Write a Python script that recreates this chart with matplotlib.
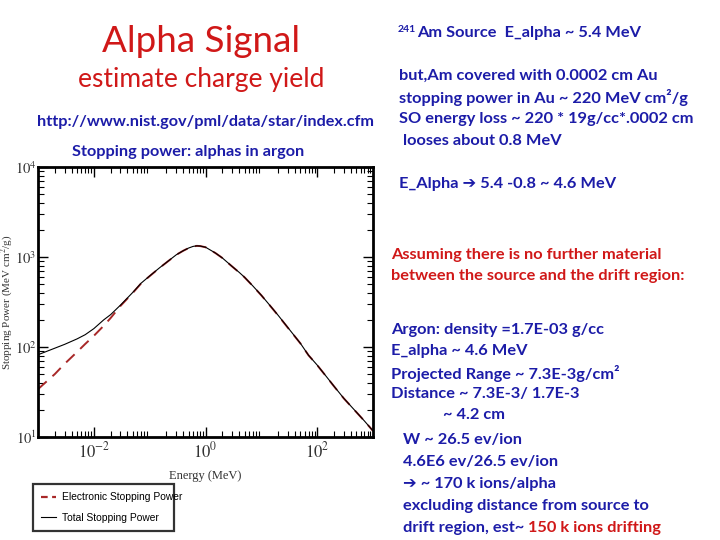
import matplotlib
matplotlib.use("Agg")
import matplotlib.pyplot as plt
from matplotlib.lines import Line2D

# ---------------- data ----------------
energy_mev = [1e-3, 2e-3, 3e-3, 5e-3, 7e-3, 1e-2, 1.5e-2, 2e-2, 3e-2, 5e-2, 7e-2,
              0.1, 0.15, 0.2, 0.3, 0.4, 0.5, 0.6, 0.7, 0.8, 1.0, 1.5, 2, 3, 4, 5,
              7, 10, 15, 20, 30, 50, 70, 100, 150, 200, 300, 500, 700, 1000]
total_sp = [82, 97, 107, 123, 137, 160, 200, 229, 292, 405, 511,
            616, 758, 871, 1059, 1175, 1259, 1312, 1330, 1324, 1285, 1109, 977, 785, 676, 596,
            479, 376, 279, 225, 164, 110, 81, 63, 46, 36.7, 26.9, 19, 15.1, 11.7]
electronic_sp = [34, 50, 65, 88, 108, 133, 172, 210, 286, 400, 507,
                 613, 756, 869, 1058, 1174, 1258, 1311, 1329, 1323, 1284, 1108, 976, 784, 675, 595,
                 478, 375, 278, 224, 163, 109.8, 80.9, 62.9, 45.9, 36.6, 26.85, 18.98, 15.09, 11.69]
legend_labels = ["Electronic Stopping Power", "Total Stopping Power"]
xtick_values = [1e-2, 1, 1e2]
xtick_labels = [r"$10^{-2}$", r"$10^{0}$", r"$10^{2}$"]
ytick_values = [1e1, 1e2, 1e3, 1e4]
ytick_labels = [r"$10^{1}$", r"$10^{2}$", r"$10^{3}$", r"$10^{4}$"]

RED = "#d01818"
BLUE = "#1c1ca8"
DARKRED = "#a82828"

plt.rcParams["mathtext.fontset"] = "stix"
fig = plt.figure(figsize=(7.2, 5.4), dpi=100)
fig.patch.set_facecolor("white")

# ---------------- chart ----------------
ax = fig.add_axes([38/720, 1-437/540, (373-38)/720, (437-167)/540])
ax.plot(energy_mev, electronic_sp, color=DARKRED, lw=1.4, ls=(0, (6, 4)))
ax.plot(energy_mev, total_sp, color="black", lw=0.8)
ax.set_xscale("log")
ax.set_yscale("log")
ax.set_xlim(1e-3, 1e3)
ax.set_ylim(1e1, 1e4)
for s in ax.spines.values():
    s.set_linewidth(2)
ax.tick_params(which="both", direction="in", top=True, right=True)
ax.tick_params(which="major", length=7, width=1)
ax.tick_params(which="minor", length=4, width=0.8)
ax.set_xticks(xtick_values)
ax.set_xticklabels(xtick_labels)
ax.set_yticks(ytick_values)
ax.set_yticklabels(ytick_labels)
for lab in ax.get_xticklabels():
    lab.set_fontsize(12)
    lab.set_color("#333333")
for lab in ax.get_yticklabels():
    lab.set_fontsize(10.5)
    lab.set_color("#333333")
ax.tick_params(axis="x", pad=3)
ax.tick_params(axis="y", pad=1)
ax.set_xlabel("Energy (MeV)", fontsize=9, fontfamily="Liberation Serif", color="#333333")
ax.xaxis.set_label_coords(0.5, -(470-437)/270)
ax.set_ylabel("Stopping Power (MeV cm$^2$/g)", fontsize=8, fontfamily="Liberation Serif",
              color="#333333")
ax.yaxis.label.set_va("center")
ax.yaxis.set_label_coords(-(38-7)/335, 0.5)

handles = [Line2D([], [], color=DARKRED, lw=1.6, ls=(0, (3, 2))),
           Line2D([], [], color="black", lw=0.8)]
leg = fig.legend(handles, legend_labels, loc="lower left",
                 bbox_to_anchor=(33/720, 1-531/540, 141/720, 54/540), mode="expand",
                 prop={"family": "Liberation Sans", "size": 7.4}, frameon=True,
                 fancybox=False, edgecolor="black", handlelength=1.4, borderaxespad=0,
                 labelspacing=1.0, handletextpad=0.6, borderpad=0.8)
leg.get_frame().set_linewidth(1.6)

# ---------------- left column text ----------------
fam = ["Lato", "DejaVu Sans"]
fig.text(201/720, 1-42/540, "Alpha Signal", color=RED, fontsize=26.5, family=fam,
         ha="center", va="center")
fig.text(201/720, 1-80/540, "estimate charge yield", color=RED, fontsize=19, family=fam,
         ha="center", va="center")
fig.text(206/720, 1-122/540, "http://www.nist.gov/pml/data/star/index.cfm", color=BLUE,
         fontsize=11.7, family=fam, weight="bold", ha="center", va="center")
fig.text(188/720, 1-152/540, "Stopping power: alphas in argon", color=BLUE,
         fontsize=11.7, family=fam, weight="bold", ha="center", va="center")

# ---------------- right column text ----------------
FS = 11.8


def line(x, y, s, color=BLUE):
    return fig.text(x/720, 1-y/540, s, color=color, fontsize=FS, family=fam,
                    weight="bold", ha="left", va="center")


fig.text(398/720, 1-29/540, "241", color=BLUE, fontsize=7.5, family=fam,
         weight="bold", ha="left", va="center")
line(417, 33, "Am Source  E_alpha ~ 5.4 MeV")
line(399, 76, "but,Am covered with 0.0002 cm Au")
line(399, 98, "stopping power in Au ~ 220 MeV cm\u00b2/g")
line(399, 119, "SO energy loss ~ 220 * 19g/cc*.0002 cm")
line(399, 141, " looses about 0.8 MeV")
line(399, 184, "E_Alpha \u2794 5.4 -0.8 ~ 4.6 MeV")

line(391, 255, "Assuming there is no further material", RED)
line(391, 276, "between the source and the drift region:", RED)

line(391, 330, "Argon: density =1.7E-03 g/cc")
line(391, 351, "E_alpha ~ 4.6 MeV")
line(391, 373, "Projected Range ~ 7.3E-3g/cm\u00b2")
line(391, 394, "Distance ~ 7.3E-3/ 1.7E-3")
line(391, 415, "             ~ 4.2 cm")
line(403, 440, "W ~ 26.5 ev/ion")
line(403, 462, "4.6E6 ev/26.5 ev/ion")
line(403, 484, "\u2794 ~ 170 k ions/alpha")
line(403, 506, "excluding distance from source to")
t = line(403, 528, "drift region, est~ ")
fig.canvas.draw()
bb = t.get_window_extent()
fig.text(bb.x1/720, 1-528/540, "150 k ions drifting", color=RED, fontsize=FS,
         family=fam, weight="bold", ha="left", va="center")

fig.savefig("out.png", dpi=100, facecolor="white")
